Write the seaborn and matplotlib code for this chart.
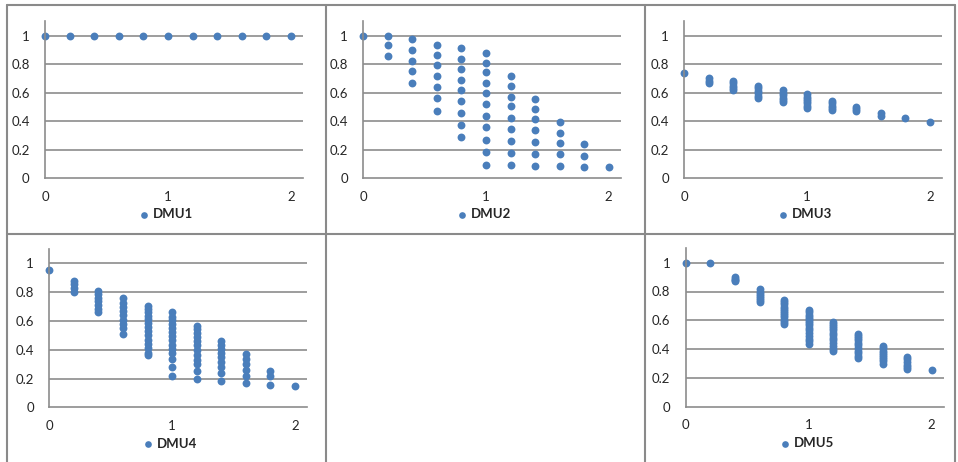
import pandas as pd
import seaborn as sns
import matplotlib.pyplot as plt

# x positions shared by every panel
x_levels = [0, 0.2, 0.4, 0.6, 0.8, 1.0, 1.2, 1.4, 1.6, 1.8, 2.0]

# y values, one list per x level
dmu1 = [[1.0], [1.0], [1.0], [1.0], [1.0], [1.0], [1.0], [1.0], [1.0], [1.0], [1.0]]

dmu2 = [
    [1.0],
    [1.0, 0.937, 0.86],
    [0.977, 0.90, 0.825, 0.75, 0.666],
    [0.937, 0.867, 0.792, 0.715, 0.638, 0.565, 0.472],
    [0.911, 0.836, 0.766, 0.689, 0.617, 0.542, 0.456, 0.371, 0.287],
    [0.876, 0.811, 0.743, 0.668, 0.596, 0.521, 0.439, 0.362, 0.271, 0.187, 0.096],
    [0.717, 0.647, 0.572, 0.505, 0.423, 0.346, 0.262, 0.178, 0.096],
    [0.556, 0.488, 0.414, 0.339, 0.255, 0.171, 0.086],
    [0.397, 0.320, 0.245, 0.171, 0.086],
    [0.238, 0.159, 0.079],
    [0.079],
]

dmu3 = [
    [0.736],
    [0.70, 0.685, 0.67],
    [0.68, 0.665, 0.65, 0.635, 0.62],
    [0.645, 0.63, 0.61, 0.595, 0.58, 0.565],
    [0.62, 0.60, 0.585, 0.565, 0.55, 0.535],
    [0.59, 0.57, 0.555, 0.54, 0.525, 0.51, 0.495],
    [0.545, 0.525, 0.51, 0.495, 0.48],
    [0.50, 0.485, 0.47],
    [0.455, 0.44],
    [0.425],
    [0.398],
]

dmu4 = [
    [0.951],
    [0.879, 0.856, 0.830, 0.802],
    [0.808, 0.785, 0.760, 0.735, 0.710, 0.685, 0.665],
    [0.757, 0.727, 0.699, 0.669, 0.639, 0.606, 0.576, 0.551, 0.509],
    [0.706, 0.685, 0.66, 0.635, 0.61, 0.585, 0.56, 0.53, 0.50, 0.47, 0.44, 0.41, 0.38, 0.365],
    [0.664, 0.629, 0.606, 0.578, 0.551, 0.525, 0.495, 0.467, 0.433, 0.403, 0.375, 0.333, 0.278, 0.217],
    [0.565, 0.542, 0.518, 0.490, 0.462, 0.433, 0.398, 0.363, 0.328, 0.298, 0.254, 0.197],
    [0.462, 0.433, 0.403, 0.375, 0.347, 0.317, 0.282, 0.240, 0.183],
    [0.368, 0.333, 0.299, 0.259, 0.217, 0.171],
    [0.254, 0.217, 0.155],
    [0.148],
]

dmu5 = [
    [1.0],
    [1.0],
    [0.90, 0.89, 0.88, 0.87],
    [0.815, 0.80, 0.785, 0.77, 0.755, 0.74, 0.725],
    [0.74, 0.725, 0.71, 0.695, 0.68, 0.665, 0.65, 0.635, 0.62, 0.605, 0.59, 0.575],
    [0.67, 0.655, 0.64, 0.625, 0.61, 0.595, 0.58, 0.565, 0.55, 0.53, 0.51, 0.49, 0.47, 0.455, 0.435],
    [0.59, 0.575, 0.56, 0.545, 0.53, 0.515, 0.50, 0.48, 0.46, 0.44, 0.42, 0.40, 0.385],
    [0.505, 0.49, 0.475, 0.46, 0.445, 0.43, 0.41, 0.39, 0.37, 0.35, 0.335],
    [0.42, 0.405, 0.39, 0.375, 0.36, 0.345, 0.33, 0.315, 0.30],
    [0.345, 0.33, 0.31, 0.29, 0.275, 0.262],
    [0.255],
]

names = ["DMU1", "DMU2", "DMU3", "DMU4", "DMU5"]
series = [dmu1, dmu2, dmu3, dmu4, dmu5]
x_ticks = [0, 1, 2]
y_ticks = [0, 0.2, 0.4, 0.6, 0.8, 1.0]
y_tick_labels = ["0", "0.2", "0.4", "0.6", "0.8", "1"]

rows = []
for name, cols in zip(names, series):
    for xv, ys in zip(x_levels, cols):
        for yv in ys:
            rows.append({"dmu": name, "x": xv, "y": yv})
df = pd.DataFrame(rows)

sns.set_style("white")
plt.rcParams["font.family"] = ["Lato", "DejaVu Sans"]

W, H = 958, 462
fig = plt.figure(figsize=(W / 100, H / 100), dpi=100)

# pixel spots: (x of 0, x of 2, y of 1, y of 0)
spots = {
    "DMU1": (45, 291, 35.7, 178.3),
    "DMU2": (363.3, 608.7, 35.7, 178.3),
    "DMU3": (684.3, 930, 35.7, 178.3),
    "DMU4": (49.3, 295, 263.3, 407.3),
    "DMU5": (685.7, 931.7, 262.7, 406.7),
}

blue = "#4a7ebb"
grey = "#8c8c8c"

for name in names:
    x0, x2, y1, y0 = spots[name]
    ux = (x2 - x0) / 2
    uy = y0 - y1
    w = 2.1 * ux
    h = 1.1 * uy
    ax = fig.add_axes([x0 / W, (H - y0) / H, w / W, h / H])
    sns.scatterplot(data=df[df["dmu"] == name], x="x", y="y", ax=ax,
                    color=blue, s=32, linewidth=0, label=name, clip_on=False)
    ax.set_xlim(0, 2.1)
    ax.set_ylim(0, 1.1)
    ax.set_xticks(x_ticks)
    ax.set_xticklabels([str(t) for t in x_ticks])
    ax.set_yticks(y_ticks)
    ax.set_yticklabels(y_tick_labels)
    ax.set_xlabel("")
    ax.set_ylabel("")
    for yv in y_ticks[1:]:
        ax.axhline(yv, color=grey, lw=1.2, zorder=0)
    for side in ["top", "right"]:
        ax.spines[side].set_visible(False)
    for side in ["left", "bottom"]:
        ax.spines[side].set_color(grey)
        ax.spines[side].set_linewidth(1.2)
    ax.tick_params(axis="both", which="both", direction="out", length=4,
                   width=1.0, color=grey, labelsize=9.5, labelcolor="#262626")
    ax.tick_params(axis="y", pad=7)
    ax.tick_params(axis="x", pad=5)
    ax.legend(loc="center", bbox_to_anchor=(0.47, -0.23), frameon=False,
              handlelength=0.7, handletextpad=0.35, markerscale=0.85, borderpad=0,
              prop={"weight": "bold", "size": 9.5})
    for t in ax.get_legend().get_texts():
        t.set_color("#262626")

# panel frame
frame_kw = dict(color="#8a8a8a", lw=1.5, transform=fig.transFigure)
for xp in [7, 326, 645, 955]:
    fig.add_artist(plt.Line2D([xp / W, xp / W], [1 - 5 / H, 0], **frame_kw))
for yp in [5, 234]:
    fig.add_artist(plt.Line2D([7 / W, 955 / W], [1 - yp / H, 1 - yp / H], **frame_kw))

fig.savefig("out.png", dpi=100)
